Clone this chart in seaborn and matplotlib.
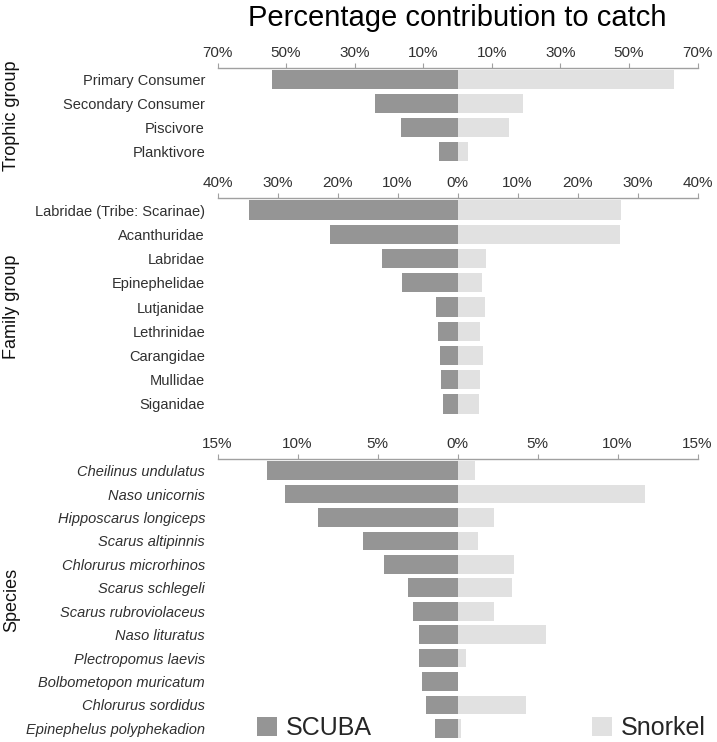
import matplotlib
matplotlib.use("Agg")
import matplotlib.pyplot as plt
import seaborn as sns
import pandas as pd
import numpy as np
from matplotlib.patches import Patch

sns.set_theme(style="white")
plt.rcParams['font.family'] = ['Liberation Sans', 'DejaVu Sans']

# ---- data ----
trophic = ["Primary Consumer", "Secondary Consumer", "Piscivore", "Planktivore"]
trophic_scuba = [54.0, 24.0, 16.5, 5.5]
trophic_snorkel = [63.0, 19.0, 15.0, 3.0]

family = ["Labridae (Tribe: Scarinae)", "Acanthuridae", "Labridae", "Epinephelidae",
          "Lutjanidae", "Lethrinidae", "Carangidae", "Mullidae", "Siganidae"]
family_scuba = [34.7, 21.3, 12.6, 9.3, 3.6, 3.3, 2.9, 2.7, 2.4]
family_snorkel = [27.3, 27.0, 4.8, 4.0, 4.5, 3.8, 4.2, 3.8, 3.5]

species = ["Cheilinus undulatus", "Naso unicornis", "Hipposcarus longiceps", "Scarus altipinnis",
           "Chlorurus microrhinos", "Scarus schlegeli", "Scarus rubroviolaceus", "Naso lituratus",
           "Plectropomus laevis", "Bolbometopon muricatum", "Chlorurus sordidus",
           "Epinephelus polyphekadion"]
species_scuba = [11.9, 10.8, 8.7, 5.9, 4.6, 3.1, 2.8, 2.4, 2.4, 2.2, 2.0, 1.4]
species_snorkel = [1.1, 11.7, 2.3, 1.3, 3.5, 3.4, 2.3, 5.5, 0.5, 0.0, 4.3, 0.2]

trophic_ticks = [-70, -50, -30, -10, 10, 30, 50, 70]
family_ticks = [-40, -30, -20, -10, 0, 10, 20, 30, 40]
species_ticks = [-15, -10, -5, 0, 5, 10, 15]

methods = ["SCUBA", "Snorkel"]
colors = {"SCUBA": "#959595", "Snorkel": "#e1e1e1"}

W, H = 717, 742
fig = plt.figure(figsize=(W / 100, H / 100), dpi=100)

def px_axes(top, bottom, left=217.5, right=697.5):
    return fig.add_axes([left / W, 1 - bottom / H, (right - left) / W, (bottom - top) / H])

def make_df(cats, scuba, snorkel):
    rows = []
    for c, s in zip(cats, scuba):
        rows.append({"cat": c, "method": "SCUBA", "val": -s})
    for c, s in zip(cats, snorkel):
        rows.append({"cat": c, "method": "Snorkel", "val": s})
    return pd.DataFrame(rows)

panels = [
    (trophic, trophic_scuba, trophic_snorkel, trophic_ticks, (68, 163), "Trophic group", False),
    (family, family_scuba, family_snorkel, family_ticks, (198, 416), "Family group", False),
    (species, species_scuba, species_snorkel, species_ticks, (459, 740), "Species", True),
]

tick_color = "#303030"
for cats, sc, sn, ticks, (t, b), ylab, italic in panels:
    ax = px_axes(t, b)
    df = make_df(cats, sc, sn)
    sns.barplot(data=df, y="cat", x="val", hue="method", hue_order=methods,
                order=cats, dodge=False, palette=colors, orient="h", width=0.8,
                linewidth=0, ax=ax, legend=False)
    lim = max(abs(ticks[0]), abs(ticks[-1]))
    ax.set_xlim(-lim, lim)
    ax.set_ylim(len(cats) - 0.5, -0.5)
    ax.set_xticks(ticks)
    ax.set_xticklabels([f"{abs(v)}%" for v in ticks])
    ax.xaxis.tick_top()
    ax.tick_params(axis="x", direction="out", length=3.5, width=0.8, color="#a0a0a0",
                   labelsize=11, labelcolor=tick_color, pad=2)
    ax.tick_params(axis="y", length=0, labelsize=10.5, labelcolor=tick_color, pad=9)
    for s in ["bottom", "left", "right"]:
        ax.spines[s].set_visible(False)
    ax.spines["top"].set_visible(True)
    ax.spines["top"].set_color("#a0a0a0")
    ax.spines["top"].set_linewidth(1.0)
    ax.set_xlabel("")
    ax.set_ylabel("")
    if italic:
        for lbl in ax.get_yticklabels():
            lbl.set_fontstyle("italic")
    ax.set_facecolor("none")
    ax.grid(False)
    fig.text(12 / W, 1 - ((t + b) / 2) / H, ylab, rotation=90, ha="center", va="center",
             fontsize=13, color="#111111")

fig.text(457.5 / W, 1 - 17.5 / H, "Percentage contribution to catch", ha="center", va="center",
         fontsize=21, color="#000000")

# legend (two separate entries as in reference)
for name, xpx in [("SCUBA", 257), ("Snorkel", 592)]:
    fig.legend(handles=[Patch(facecolor=colors[name], edgecolor="none", label=name)],
               loc="center left", bbox_to_anchor=(xpx / W, 1 - 728 / H),
               frameon=False, fontsize=18, handlelength=0.8, handleheight=0.8,
               handletextpad=0.35, borderpad=0, borderaxespad=0)

fig.savefig("out.png", dpi=100, facecolor="white")
